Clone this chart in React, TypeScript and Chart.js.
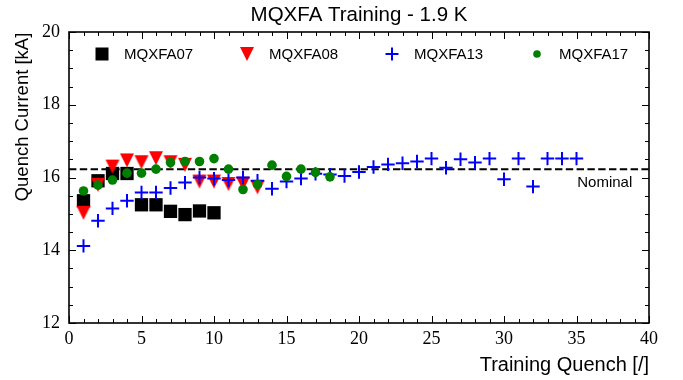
import { useEffect, useRef } from "react";
import { Chart, registerables } from "chart.js";

Chart.register(...registerables);

const TITLE = "MQXFA Training - 1.9 K";
const X_TITLE = "Training Quench [/]";
const Y_TITLE = "Quench Current [kA]";
const NOMINAL = 16.23;
const NOMINAL_LABEL = "Nominal";
const X_MIN = 0;
const X_MAX = 40;
const X_STEP = 5;
const Y_MIN = 12;
const Y_MAX = 20;
const Y_STEP = 2;

const SERIES_NAMES = ["MQXFA07", "MQXFA08", "MQXFA13", "MQXFA17"];

const Q07 = [1, 2, 3, 4, 5, 6, 7, 8, 9, 10];
const I07 = [15.36, 15.91, 16.11, 16.11, 15.25, 15.25, 15.07, 14.98, 15.08, 15.03];

const Q08 = [1, 2, 3, 4, 5, 6, 7, 8, 9, 10, 11, 12, 13];
const I08 = [15.03, 15.8, 16.3, 16.47, 16.42, 16.53, 16.42, 16.35, 15.89, 15.89, 15.82, 15.83, 15.73];

const Q13 = [
  1, 2, 3, 4, 5, 6, 7, 8, 9, 10, 11, 12, 13, 14, 15, 16, 17, 18, 19, 20, 21, 22, 23, 24, 25, 26, 27, 28,
  29, 30, 31, 32, 33, 34, 35,
];
const I13 = [
  14.12, 14.81, 15.15, 15.36, 15.59, 15.59, 15.71, 15.86, 16.0, 15.97, 15.93, 16.0, 15.91, 15.69, 15.89,
  15.97, 16.1, 16.08, 16.04, 16.15, 16.29, 16.36, 16.39, 16.44, 16.52, 16.27, 16.5, 16.41, 16.52, 15.95,
  16.52, 15.75, 16.52, 16.52, 16.52,
];

const Q17 = [1, 2, 3, 4, 5, 6, 7, 8, 9, 10, 11, 12, 13, 14, 15, 16, 17, 18];
const I17 = [
  15.63, 15.79, 15.93, 16.12, 16.12, 16.23, 16.41, 16.44, 16.44, 16.52, 16.23, 15.67, 15.81, 16.34, 16.03,
  16.23, 16.14, 16.02,
];

const toPoints = (xs: number[], ys: number[]) => xs.map((x, i) => ({ x, y: ys[i] }));

function makeTriangle(): HTMLCanvasElement {
  const c = document.createElement("canvas");
  c.width = 16;
  c.height = 16;
  const g = c.getContext("2d")!;
  g.fillStyle = "#ff0000";
  g.beginPath();
  g.moveTo(1, 1);
  g.lineTo(15, 1);
  g.lineTo(8, 15);
  g.closePath();
  g.fill();
  return c;
}

export default function App() {
  const ref = useRef<HTMLCanvasElement | null>(null);

  useEffect(() => {
    const canvas = ref.current;
    if (!canvas) return;
    const tri = makeTriangle();

    const drawLegendMarker = (ctx: CanvasRenderingContext2D, k: number, x: number, y: number) => {
      if (k === 0) {
        ctx.fillStyle = "#000";
        ctx.fillRect(x - 6.5, y - 6.5, 13, 13);
      } else if (k === 1) {
        ctx.drawImage(tri, x - 8, y - 8);
      } else if (k === 2) {
        ctx.strokeStyle = "#0000ff";
        ctx.lineWidth = 2;
        ctx.beginPath();
        ctx.moveTo(x - 6.5, y);
        ctx.lineTo(x + 6.5, y);
        ctx.moveTo(x, y - 6.5);
        ctx.lineTo(x, y + 6.5);
        ctx.stroke();
      } else {
        ctx.fillStyle = "#008000";
        ctx.beginPath();
        ctx.arc(x, y, 3.8, 0, Math.PI * 2);
        ctx.fill();
      }
    };

    const decor = {
      id: "decor",
      beforeDatasetsDraw(chart: any) {
        const { ctx, chartArea: a, scales } = chart;
        const xs = scales.x;
        const ys = scales.y;
        ctx.save();
        ctx.strokeStyle = "#000";
        ctx.lineWidth = 1;
        ctx.beginPath();
        for (let v = X_MIN; v <= X_MAX; v += 1) {
          const px = Math.round(xs.getPixelForValue(v)) + 0.5;
          const len = v % X_STEP === 0 ? 7 : 4;
          ctx.moveTo(px, a.bottom);
          ctx.lineTo(px, a.bottom - len);
          ctx.moveTo(px, a.top);
          ctx.lineTo(px, a.top + len);
        }
        for (let i = 0; i <= (Y_MAX - Y_MIN) * 2; i++) {
          const v = Y_MIN + i * 0.5;
          const py = Math.round(ys.getPixelForValue(v)) + 0.5;
          const len = i % 4 === 0 ? 7 : 4;
          ctx.moveTo(a.left, py);
          ctx.lineTo(a.left + len, py);
          ctx.moveTo(a.right, py);
          ctx.lineTo(a.right - len, py);
        }
        ctx.stroke();
        ctx.restore();
      },
      afterDatasetsDraw(chart: any) {
        const { ctx, chartArea: a, scales } = chart;
        const xs = scales.x;
        const ys = scales.y;
        ctx.save();
        ctx.strokeStyle = "#000";
        ctx.lineWidth = 1.6;
        ctx.strokeRect(a.left, a.top, a.right - a.left, a.bottom - a.top);

        // title
        ctx.fillStyle = "#000";
        ctx.font = '20.5px "Liberation Sans"';
        ctx.textAlign = "center";
        ctx.textBaseline = "middle";
        ctx.fillText(TITLE, (a.left + a.right) / 2, 15);

        // x title
        ctx.font = '20px "Liberation Sans"';
        ctx.textAlign = "right";
        ctx.fillText(X_TITLE, a.right, 365);

        // y title
        ctx.save();
        ctx.font = '18.5px "Liberation Sans"';
        ctx.translate(23, 117);
        ctx.rotate(-Math.PI / 2);
        ctx.textAlign = "center";
        ctx.fillText(Y_TITLE, 0, 0);
        ctx.restore();

        // nominal label
        ctx.font = '15px "Liberation Sans"';
        ctx.textAlign = "left";
        ctx.fillText(NOMINAL_LABEL, xs.getPixelForValue(35.05), ys.getPixelForValue(15.84));

        // legend
        ctx.font = '15px "Liberation Sans"';
        const ly = 54;
        const startX = 102;
        const spacing = 145;
        SERIES_NAMES.forEach((name, k) => {
          const mx = startX + k * spacing;
          drawLegendMarker(ctx, k, mx, ly);
          ctx.fillStyle = "#000";
          ctx.textAlign = "left";
          ctx.textBaseline = "middle";
          ctx.fillText(name, mx + 22, ly + 1);
        });
        ctx.restore();
      },
    };

    const chart = new Chart(canvas, {
      type: "scatter",
      data: {
        datasets: [
          {
            label: SERIES_NAMES[0],
            data: toPoints(Q07, I07),
            pointStyle: "rect",
            pointRadius: 9.4,
            backgroundColor: "#000000",
            borderColor: "#000000",
            borderWidth: 0,
            order: 4,
          },
          {
            label: SERIES_NAMES[1],
            data: toPoints(Q08, I08),
            pointStyle: tri,
            pointRadius: 8,
            backgroundColor: "#ff0000",
            borderColor: "#ff0000",
            borderWidth: 0,
            order: 3,
          },
          {
            label: SERIES_NAMES[2],
            data: toPoints(Q13, I13),
            pointStyle: "cross",
            pointRadius: 6.7,
            backgroundColor: "#0000ff",
            borderColor: "#0000ff",
            borderWidth: 2,
            order: 2,
          },
          {
            label: SERIES_NAMES[3],
            data: toPoints(Q17, I17),
            pointStyle: "circle",
            pointRadius: 4.8,
            backgroundColor: "#008000",
            borderColor: "#008000",
            borderWidth: 0,
            order: 1,
          },
          {
            type: "line",
            label: NOMINAL_LABEL,
            data: [
              { x: X_MIN, y: NOMINAL },
              { x: X_MAX, y: NOMINAL },
            ],
            borderColor: "#000000",
            borderWidth: 2,
            borderDash: [7.4, 3.4],
            pointRadius: 0,
            order: 5,
          } as any,
        ],
      },
      options: {
        responsive: false,
        animation: false,
        events: [],
        layout: { padding: { left: 0, right: 34, top: 32, bottom: 0 } },
        plugins: {
          legend: { display: false },
          title: { display: false },
          tooltip: { enabled: false },
        },
        scales: {
          x: {
            type: "linear",
            min: X_MIN,
            max: X_MAX,
            grid: { display: false, drawTicks: false },
            border: { display: false },
            ticks: {
              stepSize: X_STEP,
              color: "#000",
              padding: 5,
              maxRotation: 0,
              font: { family: "Liberation Serif", size: 18 },
            },
            afterFit: (s: any) => {
              s.height = 57;
            },
          },
          y: {
            type: "linear",
            min: Y_MIN,
            max: Y_MAX,
            grid: { display: false, drawTicks: false },
            border: { display: false },
            ticks: {
              stepSize: Y_STEP,
              color: "#000",
              padding: 9,
              font: { family: "Liberation Serif", size: 18 },
            },
            afterFit: (s: any) => {
              s.width = 69;
            },
          },
        },
      },
      plugins: [decor],
    });

    return () => chart.destroy();
  }, []);

  return (
    <div style={{ position: "fixed", left: 0, top: 0, width: 683, height: 380, background: "#fff" }}>
      <canvas ref={ref} width={683} height={380} style={{ width: 683, height: 380 }} />
    </div>
  );
}
